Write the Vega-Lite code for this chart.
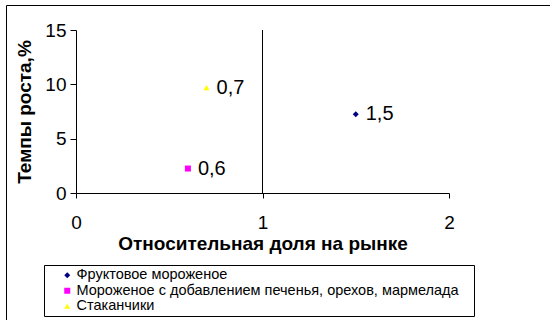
{
  "$schema": "https://vega.github.io/schema/vega-lite/v6.json",
  "width": 544,
  "height": 315,
  "autosize": {"type": "none"},
  "padding": {"left": 6, "top": 5, "right": 0, "bottom": 0},
  "background": "white",
  "config": {
    "view": {"stroke": "black", "strokeWidth": 1},
    "font": "Liberation Sans",
    "axis": {
      "domainColor": "black",
      "tickColor": "black",
      "labelColor": "black",
      "titleColor": "black",
      "labelFont": "Liberation Sans",
      "titleFont": "Liberation Sans",
      "labelFontSize": 19,
      "titleFontSize": 19,
      "titleFontWeight": "bold",
      "grid": false,
      "domainWidth": 1,
      "tickWidth": 1,
      "labelFlush": false,
      "labelOverlap": false
    }
  },
  "layer": [
    {
      "data": {"values": [{}]},
      "mark": {"type": "rule", "color": "black", "strokeWidth": 1},
      "encoding": {
        "x": {"datum": 1, "type": "quantitative", "scale": {"domain": [0, 2], "range": [70, 443], "nice": false}},
        "y": {"datum": 0, "type": "quantitative", "scale": {"domain": [0, 15], "range": [188, 25], "nice": false}},
        "y2": {"datum": 15}
      }
    },
    {
      "data": {
        "values": [
          {"series": "Фруктовое мороженое", "share": 1.5, "growth": 7.25, "label": "1,5"},
          {"series": "Мороженое с добавлением печенья, орехов, мармелада", "share": 0.6, "growth": 2.25, "label": "0,6"},
          {"series": "Стаканчики", "share": 0.7, "growth": 9.7, "label": "0,7"}
        ]
      },
      "layer": [
        {
          "mark": {"type": "point", "filled": true, "opacity": 1, "size": 36},
          "encoding": {
            "x": {
              "field": "share", "type": "quantitative",
              "scale": {"domain": [0, 2], "range": [70, 443], "nice": false},
              "axis": {
                "title": "Относительная доля на рынке",
                "values": [0, 1, 2],
                "labelExpr": "'' + datum.value",
                "offset": -127,
                "tickSize": 5,
                "labelPadding": 15,
                "titlePadding": 2
              }
            },
            "y": {
              "field": "growth", "type": "quantitative",
              "scale": {"domain": [0, 15], "range": [188, 25], "nice": false},
              "axis": {
                "title": "Темпы роста,%",
                "values": [0, 5, 10, 15],
                "labelExpr": "'' + datum.value",
                "offset": -70,
                "tickSize": 6,
                "labelPadding": 4,
                "titlePadding": 10
              }
            },
            "color": {
              "field": "series", "type": "nominal",
              "scale": {
                "domain": ["Фруктовое мороженое", "Мороженое с добавлением печенья, орехов, мармелада", "Стаканчики"],
                "range": ["#000080", "#FF00FF", "#FFFF00"]
              },
              "legend": {
                "title": "\u00a0",
                "titleOrient": "right",
                "titlePadding": 12,
                "titleFontSize": 4,
                "orient": "none",
                "legendX": 38,
                "legendY": 260,
                "strokeColor": "black",
                "fillColor": "white",
                "padding": 3,
                "symbolOffset": 13,
                "symbolSize": 36,
                "labelFontSize": 14.5,
                "labelFont": "Liberation Sans",
                "labelColor": "black",
                "labelLimit": 500,
                "labelOffset": 2,
                "rowPadding": 0.5
              }
            },
            "shape": {
              "field": "series", "type": "nominal",
              "scale": {
                "domain": ["Фруктовое мороженое", "Мороженое с добавлением печенья, орехов, мармелада", "Стаканчики"],
                "range": ["diamond", "square", "triangle-up"]
              },
              "legend": {
                "title": "\u00a0",
                "titleOrient": "right",
                "titlePadding": 12,
                "titleFontSize": 4,
                "orient": "none",
                "legendX": 38,
                "legendY": 260,
                "strokeColor": "black",
                "fillColor": "white",
                "padding": 3,
                "symbolOffset": 13,
                "symbolSize": 36,
                "labelFontSize": 14.5,
                "labelFont": "Liberation Sans",
                "labelColor": "black",
                "labelLimit": 500,
                "labelOffset": 2,
                "rowPadding": 0.5
              }
            }
          }
        },
        {
          "mark": {"type": "text", "align": "left", "baseline": "middle", "dx": 10, "fontSize": 20, "font": "Liberation Sans", "color": "black"},
          "encoding": {
            "x": {"field": "share", "type": "quantitative"},
            "y": {"field": "growth", "type": "quantitative"},
            "text": {"field": "label"}
          }
        }
      ]
    }
  ]
}
